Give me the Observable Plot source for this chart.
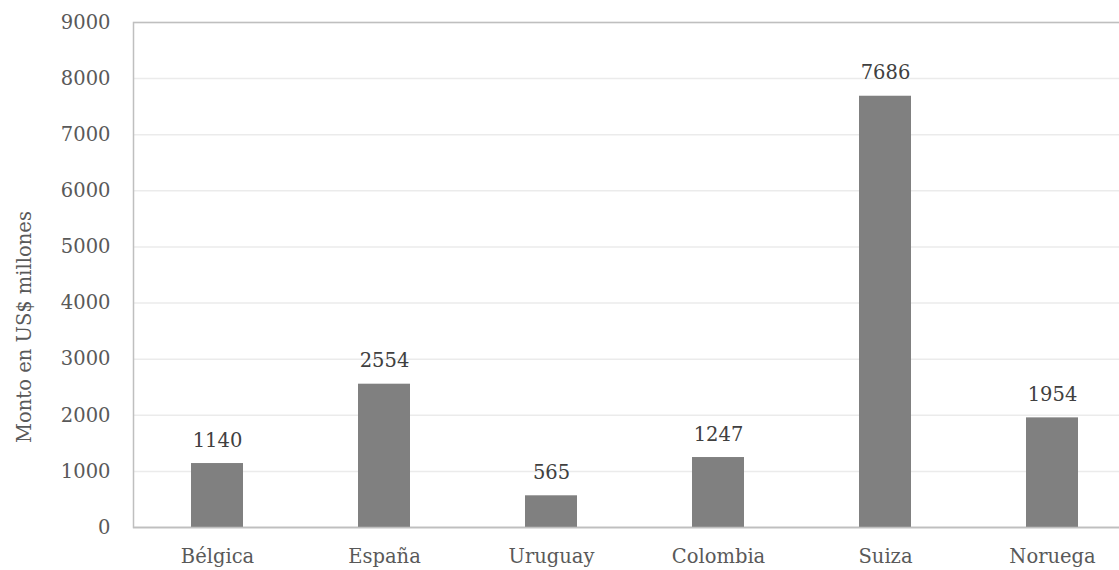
<!DOCTYPE html>
<html>
<head>
<meta charset="utf-8">
<script src="https://cdn.jsdelivr.net/npm/d3@7"></script>
<script src="https://cdn.jsdelivr.net/npm/@observablehq/plot@0.6"></script>
<style>
  html, body { margin: 0; padding: 0; background: #fff; overflow: hidden; }
  #chart svg { display: block; max-width: none !important; }
</style>
</head>
<body>
<div id="chart"></div>
<script>
const countries = ["Bélgica", "España", "Uruguay", "Colombia", "Suiza", "Noruega"];
const amounts = [1140, 2554, 565, 1247, 7686, 1954];
const yTicks = [0, 1000, 2000, 3000, 4000, 5000, 6000, 7000, 8000, 9000];
const yLabel = "Monto en US$ millones";

const data = countries.map((c, i) => ({country: c, value: amounts[i]}));
const font = "'DejaVu Serif', serif";

const plot = Plot.plot({
  width: 1136,
  height: 570,
  marginLeft: 133,
  marginRight: 0,
  marginTop: 22,
  marginBottom: 43,
  style: {fontFamily: font, fontSize: "19px", color: "#595959", background: "#fff"},
  x: {domain: countries, paddingInner: 0.69, paddingOuter: 0.345, label: null},
  y: {domain: [0, 9000], ticks: yTicks, label: null},
  marks: [
    Plot.gridY(yTicks, {stroke: "#ebebeb", strokeOpacity: 1, strokeWidth: 1.5}),
    Plot.frame({stroke: "#bfbfbf", strokeWidth: 1.5}),
    Plot.barY(data, {x: "country", y: "value", fill: "#808080"}),
    Plot.ruleY([0], {stroke: "#bfbfbf", strokeWidth: 1.5}),
    Plot.text(data, {x: "country", y: "value", text: d => String(d.value), dy: -23, fill: "#404040", fontSize: 19.5}),
    Plot.axisY(yTicks, {tickSize: 0, tickPadding: 23, fontSize: 19.5, fill: "#595959", tickFormat: d => String(d), label: null}),
    Plot.axisX({tickSize: 0, tickPadding: 22, fontSize: 19.5, fill: "#595959", label: null}),
    Plot.text([yLabel], {text: d => d, frameAnchor: "left", textAnchor: "middle", dx: -109, dy: 52, rotate: -90, fill: "#595959", fontSize: 19.5})
  ]
});

document.getElementById("chart").appendChild(plot);
</script>
</body>
</html>
